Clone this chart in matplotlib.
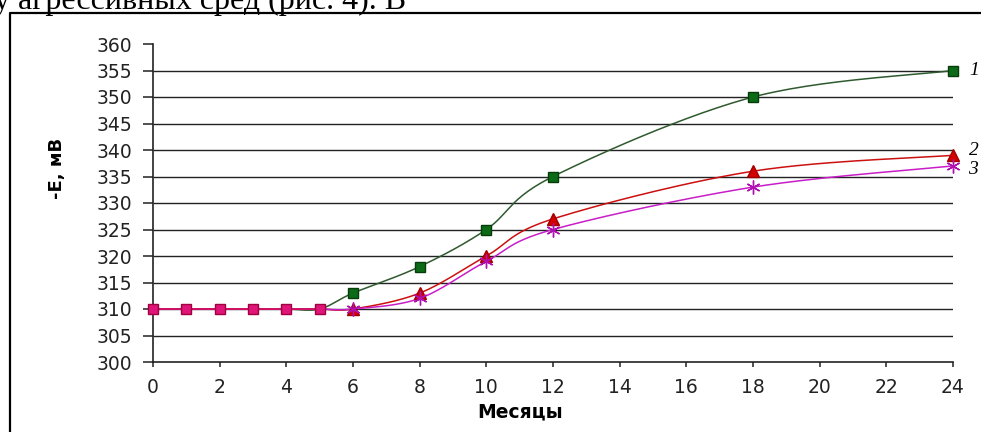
import matplotlib
matplotlib.use("Agg")
import matplotlib.pyplot as plt
from matplotlib.lines import Line2D
import numpy as np

# Data (months vs -E, mV)
months = [0, 1, 2, 3, 4, 5, 6, 8, 10, 12, 18, 24]
series_1 = [310, 310, 310, 310, 310, 310, 313, 318, 325, 335, 350, 355]
series_2 = [310, 310, 310, 310, 310, 310, 310, 313, 320, 327, 336, 339]
series_3 = [310, 310, 310, 310, 310, 310, 310, 312, 319, 325, 333, 337]
curve_labels = ["1", "2", "3"]
y_ticks = list(range(300, 361, 5))
x_ticks = list(range(0, 25, 2))


def smooth(xs, ys, n=30):
    # Excel-style smoothed line (Bezier through points, tangent = (P[i+1]-P[i-1])/6)
    p = np.column_stack([xs, ys]).astype(float)
    out = [p[0]]
    t = np.linspace(0, 1, n)[1:, None]
    for i in range(len(p) - 1):
        p0 = p[i - 1] if i > 0 else p[i]
        p3 = p[i + 2] if i + 2 < len(p) else p[i + 1]
        c1 = p[i] + (p[i + 1] - p0) / 6
        c2 = p[i + 1] - (p3 - p[i]) / 6
        seg = ((1 - t) ** 3 * p[i] + 3 * (1 - t) ** 2 * t * c1
               + 3 * (1 - t) * t ** 2 * c2 + t ** 3 * p[i + 1])
        out.extend(seg)
    out = np.array(out)
    return out[:, 0], out[:, 1]


plt.rcParams['font.family'] = ['DejaVu Sans']

fig = plt.figure(figsize=(9.81, 4.32), dpi=100)
ax = fig.add_axes([153 / 981, 70 / 432, 800 / 981, 318 / 432])

# Lines
styles = [
    (series_1, '#2f5a2f', 's', '#0b6b16', '#063d0b', 7.5),
    (series_2, '#cc1010', '^', '#d40000', '#a00000', 8),
    (series_3, '#c81ec8', (6, 2, 0), '#c81ec8', '#b010b0', 10),
]
for vals, lc, mk, fc, ec, ms in styles:
    sx, sy = smooth(months, vals)
    ax.plot(sx, sy, color=lc, lw=1.1, zorder=3, clip_on=False)
    ax.plot(months[6:], vals[6:], ls='none',
            marker=mk, ms=ms, mfc=fc, mec=ec, mew=1.0, zorder=4, clip_on=False)

# flat start: pink squares on top of all series
ax.plot(months[:6], series_3[:6], color='#d0105a', lw=1.2, zorder=4)
ax.plot(months[:6], series_3[:6], ls='none', marker='s', ms=7.5,
        mfc='#e0157a', mec='#a00040', mew=1.0, zorder=5, clip_on=False)

# Curve numbers
offsets = [(21, 0), (21, 5), (20, -4)]
for lab, vals, off in zip(curve_labels, [series_1, series_2, series_3], offsets):
    ax.annotate(lab, xy=(months[-1], vals[-1]), xytext=off,
                textcoords='offset pixels', ha='center', va='center',
                fontsize=14, fontstyle='italic', family='Liberation Serif',
                annotation_clip=False)

# Axes formatting
ax.set_xlim(0, 24)
ax.set_ylim(300, 360)
ax.set_xticks(x_ticks)
ax.set_yticks(y_ticks)
ax.hlines(y_ticks[1:-1], 0, 24, colors='#222222', lw=1.0, zorder=1)
for s in ['top', 'right']:
    ax.spines[s].set_visible(False)
for s in ['left', 'bottom']:
    ax.spines[s].set_color('#222222')
    ax.spines[s].set_linewidth(1.2)
ax.tick_params(axis='y', direction='out', length=7, width=1.1, pad=8,
               labelsize=13.5, colors='#222222')
ax.tick_params(axis='x', direction='out', length=3.5, width=1.1, pad=8,
               labelsize=13.5, colors='#222222')

fig.text(57 / 981, 1 - 168 / 432, '-E, мВ', rotation=90, ha='center',
         va='center', fontsize=13, fontweight='bold')
fig.text(520 / 981, 1 - 412 / 432, 'Месяцы', ha='center', va='center',
         fontsize=13.5, fontweight='bold')

# Frame around the chart (partly cropped) and the text line above it
fig.add_artist(Line2D([10 / 981, 10 / 981, 1.0], [0.0, 1 - 13 / 432, 1 - 13 / 432],
                      color='black', lw=1.6, transform=fig.transFigure))
fig.text(-6 / 981, 1 - 9 / 432, 'у агрессивных сред (рис. 4). В',
         ha='left', va='baseline', fontsize=23, family='Liberation Serif')

fig.savefig('out.png', dpi=100)
